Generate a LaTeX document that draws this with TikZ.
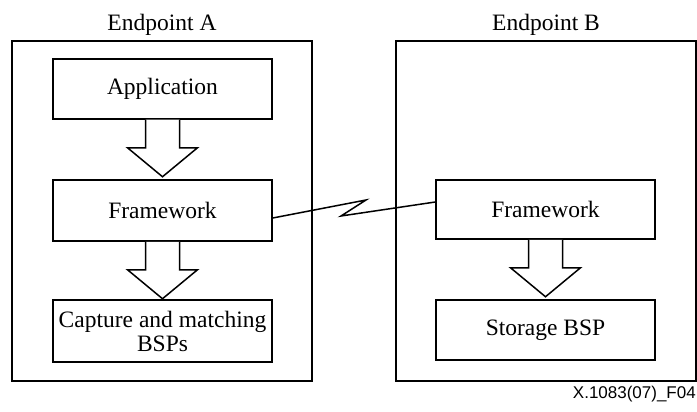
\documentclass[tikz,border=0pt]{standalone}
\usepackage{fontspec}
\setmainfont{Liberation Serif}
\newfontfamily\labelsans{Liberation Sans}
\usetikzlibrary{calc}
\tikzset{
  x=1pt, y=-1pt,
  boxnode/.style={draw=black, line width=1.5pt, minimum width=219pt, inner sep=0pt,
    font=\fontsize{23.5}{25}\selectfont, align=center},
  outerbox/.style={draw=black, line width=1.6pt},
  blockarr/.style={draw=black, line width=1.5pt, fill=white, line join=miter},
  linkline/.style={draw=black, line width=1.5pt, line join=miter},
  titletext/.style={font=\fontsize{23.5}{25}\selectfont, anchor=base},
}
\newcommand{\blockarrow}[1]{%
  \draw[blockarr] ($(#1.south)+(-17,0)$) -- ++(0,28) -- ++(-18,0)
    -- ($(#1.south)+(0,57)$) -- ($(#1.south)+(35,28)$) -- ++(-18,0)
    -- ($(#1.south)+(17,0)$);}
\begin{document}
\begin{tikzpicture}
\useasboundingbox (0,0) rectangle (697,412);
% outer boxes
\node[outerbox, minimum width=300pt, minimum height=340pt, inner sep=0pt] (epA) at (162,211) {};
\node[outerbox, minimum width=300pt, minimum height=340pt, inner sep=0pt] (epB) at (546,211) {};
\node[titletext] (tA) at (162,31) {Endpoint A};
\node[titletext] (tB) at (546,31) {Endpoint B};
% endpoint A
\node[boxnode, minimum height=60pt] (app) at (162.5,89) {Application};
\node[boxnode, minimum height=61pt] (fwA) at (162.5,210.5) {Framework};
\node[boxnode, minimum height=62pt] (cap) at (162.5,331) {Capture and matching\\[-1pt]BSPs};
% endpoint B
\node[boxnode, minimum height=59pt] (fwB) at (545.5,209.5) {Framework};
\node[boxnode, minimum height=60pt] (sto) at (545.5,330) {Storage BSP};
% block arrows
\blockarrow{app}
\blockarrow{fwA}
\blockarrow{fwB}
% link
\coordinate (la) at ($(fwA.east)+(0,7.5)$);
\coordinate (lb) at ($(fwB.west)+(0,-7.5)$);
\coordinate (z1) at (366,200);
\coordinate (z2) at (341,216);
\draw[linkline] (la) -- (z1) -- (z2) -- (lb);
% figure label
\node[font=\labelsans\fontsize{17}{19}\selectfont, anchor=base east, inner sep=0pt] (fig) at (696,398) {X.1083(07)\_F04};
\end{tikzpicture}
\end{document}
